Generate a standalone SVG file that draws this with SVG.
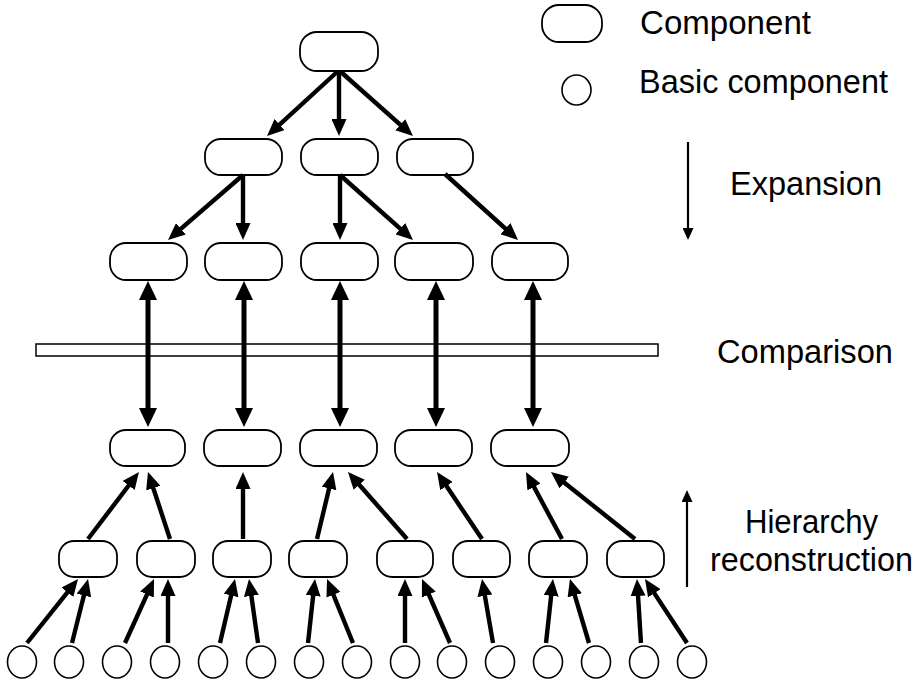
<svg xmlns="http://www.w3.org/2000/svg" width="917" height="683" viewBox="0 0 917 683">
  <style>
    .node { fill: #fff; stroke: #000; stroke-width: 1.8; }
    .leaf { fill: #fff; stroke: #000; stroke-width: 1.6; }
    .edge { stroke: #000; stroke-width: 4.4; fill: none; marker-end: url(#head); }
    .cmp { stroke: #000; stroke-width: 5; fill: none; marker-start: url(#headBig); marker-end: url(#headBig); }
    .thin { stroke: #000; stroke-width: 2.2; fill: none; marker-end: url(#headThin); }
    .lbl { font-family: "Liberation Sans", Arial, Helvetica, sans-serif; font-size: 33px; fill: #000; }
  </style>
  <defs>
    <marker id="head" markerUnits="userSpaceOnUse" markerWidth="17" markerHeight="15" refX="7" refY="7.5" orient="auto">
      <path d="M0,0 L17,7.5 L0,15 Z" fill="#000"/>
    </marker>
    <marker id="headBig" markerUnits="userSpaceOnUse" markerWidth="19" markerHeight="18" refX="7" refY="9" orient="auto-start-reverse">
      <path d="M0,0 L19,9 L0,18 Z" fill="#000"/>
    </marker>
    <marker id="headThin" markerUnits="userSpaceOnUse" markerWidth="12" markerHeight="11" refX="4" refY="5.5" orient="auto">
      <path d="M0,0 L12,5.5 L0,11 Z" fill="#000"/>
    </marker>
  </defs>

  <rect width="917" height="683" fill="#fff"/>

  <!-- comparison plane -->
  <rect id="comparison-bar" x="36" y="344" width="622" height="12" fill="#fff" stroke="#000" stroke-width="1.5"/>

  <!-- legend -->
  <g id="legend">
    <rect class="node" x="542" y="5" width="60" height="37" rx="17"/>
    <text class="lbl" x="640" y="34" textLength="171" lengthAdjust="spacingAndGlyphs">Component</text>
    <ellipse class="leaf" cx="576.5" cy="90" rx="14.5" ry="15"/>
    <text class="lbl" x="639" y="93" textLength="249" lengthAdjust="spacingAndGlyphs">Basic component</text>
  </g>

  <g id="stage-labels">
    <line class="thin" x1="688" y1="142" x2="688" y2="232"/>
    <text class="lbl" x="730" y="195" textLength="152" lengthAdjust="spacingAndGlyphs">Expansion</text>
    <text class="lbl" x="717" y="363" textLength="176" lengthAdjust="spacingAndGlyphs">Comparison</text>
    <line class="thin" x1="687" y1="587" x2="687" y2="498"/>
    <text class="lbl" x="745" y="533" textLength="133" lengthAdjust="spacingAndGlyphs">Hierarchy</text>
    <text class="lbl" x="710" y="571" textLength="203" lengthAdjust="spacingAndGlyphs">reconstruction</text>
  </g>

  <!-- upper hierarchy (expansion) -->
  <g id="n-root"><rect class="node" x="300" y="32" width="78" height="39" rx="17"/></g>
  <g id="n-e1"><rect class="node" x="205" y="139" width="77" height="36" rx="16"/></g>
  <g id="n-e2"><rect class="node" x="301" y="139" width="77" height="36" rx="16"/></g>
  <g id="n-e3"><rect class="node" x="397" y="139" width="76" height="36" rx="16"/></g>
  <g id="n-u1"><rect class="node" x="110" y="243" width="77" height="37" rx="16"/></g>
  <g id="n-u2"><rect class="node" x="205" y="243" width="77" height="37" rx="16"/></g>
  <g id="n-u3"><rect class="node" x="301" y="243" width="77" height="37" rx="16"/></g>
  <g id="n-u4"><rect class="node" x="395" y="243" width="78" height="37" rx="16"/></g>
  <g id="n-u5"><rect class="node" x="492" y="243" width="76" height="37" rx="16"/></g>

  <!-- lower hierarchy (reconstruction) -->
  <g id="n-l1"><rect class="node" x="110" y="430" width="75" height="36" rx="16"/></g>
  <g id="n-l2"><rect class="node" x="204" y="430" width="77" height="36" rx="16"/></g>
  <g id="n-l3"><rect class="node" x="300" y="430" width="77" height="36" rx="16"/></g>
  <g id="n-l4"><rect class="node" x="395" y="430" width="77" height="36" rx="16"/></g>
  <g id="n-l5"><rect class="node" x="491" y="430" width="78" height="36" rx="16"/></g>

  <g id="n-m1"><rect class="node" x="59" y="541" width="58" height="36" rx="15"/></g>
  <g id="n-m2"><rect class="node" x="137" y="541" width="58" height="36" rx="15"/></g>
  <g id="n-m3"><rect class="node" x="213" y="541" width="58" height="36" rx="15"/></g>
  <g id="n-m4"><rect class="node" x="289" y="541" width="58" height="36" rx="15"/></g>
  <g id="n-m5"><rect class="node" x="377" y="541" width="56" height="36" rx="15"/></g>
  <g id="n-m6"><rect class="node" x="453" y="541" width="57" height="36" rx="15"/></g>
  <g id="n-m7"><rect class="node" x="529" y="541" width="58" height="36" rx="15"/></g>
  <g id="n-m8"><rect class="node" x="607" y="541" width="57" height="36" rx="15"/></g>

  <!-- basic components -->
  <g id="b1"><ellipse class="leaf" cx="22" cy="662" rx="14.5" ry="16"/></g>
  <g id="b2"><ellipse class="leaf" cx="69" cy="662" rx="14.5" ry="16"/></g>
  <g id="b3"><ellipse class="leaf" cx="117" cy="662" rx="14.5" ry="16"/></g>
  <g id="b4"><ellipse class="leaf" cx="165" cy="662" rx="14.5" ry="16"/></g>
  <g id="b5"><ellipse class="leaf" cx="213" cy="662" rx="14.5" ry="16"/></g>
  <g id="b6"><ellipse class="leaf" cx="261" cy="662" rx="14.5" ry="16"/></g>
  <g id="b7"><ellipse class="leaf" cx="309" cy="662" rx="14.5" ry="16"/></g>
  <g id="b8"><ellipse class="leaf" cx="357" cy="662" rx="14.5" ry="16"/></g>
  <g id="b9"><ellipse class="leaf" cx="405" cy="662" rx="14.5" ry="16"/></g>
  <g id="b10"><ellipse class="leaf" cx="452" cy="662" rx="14.5" ry="16"/></g>
  <g id="b11"><ellipse class="leaf" cx="500" cy="662" rx="14.5" ry="16"/></g>
  <g id="b12"><ellipse class="leaf" cx="548" cy="662" rx="14.5" ry="16"/></g>
  <g id="b13"><ellipse class="leaf" cx="596" cy="662" rx="14.5" ry="16"/></g>
  <g id="b14"><ellipse class="leaf" cx="644" cy="662" rx="14.5" ry="16"/></g>
  <g id="b15"><ellipse class="leaf" cx="692" cy="662" rx="14.5" ry="16"/></g>

  <!-- connectors -->
  <g id="connectors">
    <!-- expansion -->
    <line class="edge" x1="337" y1="72" x2="274.4" y2="129.3"/>
    <line class="edge" x1="339" y1="72" x2="339" y2="126"/>
    <line class="edge" x1="341" y1="72" x2="405.5" y2="129.4"/>
    <line class="edge" x1="243" y1="175" x2="175.6" y2="233.4"/>
    <line class="edge" x1="243" y1="175" x2="243" y2="230"/>
    <line class="edge" x1="340" y1="175" x2="340" y2="230"/>
    <line class="edge" x1="340" y1="175" x2="405.5" y2="233.3"/>
    <line class="edge" x1="445" y1="174" x2="510.6" y2="233.3"/>
    <!-- comparison -->
    <line class="cmp" x1="148" y1="293" x2="148" y2="415"/>
    <line class="cmp" x1="244" y1="293" x2="244" y2="415"/>
    <line class="cmp" x1="340" y1="293" x2="340" y2="415"/>
    <line class="cmp" x1="436" y1="293" x2="436" y2="415"/>
    <line class="cmp" x1="533" y1="293" x2="533" y2="415"/>
    <!-- reconstruction: middle to lower-top -->
    <line class="edge" x1="88" y1="539" x2="132.9" y2="480"/>
    <line class="edge" x1="170" y1="539" x2="151.1" y2="481.5"/>
    <line class="edge" x1="243" y1="539" x2="243" y2="482"/>
    <line class="edge" x1="317" y1="539" x2="330.7" y2="481.7"/>
    <line class="edge" x1="407" y1="539" x2="354.6" y2="479.5"/>
    <line class="edge" x1="482" y1="539" x2="442.6" y2="480.3"/>
    <line class="edge" x1="562" y1="539" x2="530.7" y2="480.8"/>
    <line class="edge" x1="635" y1="539" x2="558.8" y2="478.2"/>
    <!-- reconstruction: basic to middle -->
    <line class="edge" x1="27" y1="643" x2="71.8" y2="586.8"/>
    <line class="edge" x1="72" y1="643" x2="85.6" y2="588.7"/>
    <line class="edge" x1="125" y1="643" x2="149.9" y2="588.1"/>
    <line class="edge" x1="168" y1="643" x2="168" y2="589"/>
    <line class="edge" x1="220" y1="643" x2="232.7" y2="588.7"/>
    <line class="edge" x1="258" y1="643" x2="250.4" y2="588.9"/>
    <line class="edge" x1="308" y1="643" x2="313.9" y2="588.9"/>
    <line class="edge" x1="353" y1="643" x2="330.8" y2="588.3"/>
    <line class="edge" x1="405" y1="643" x2="405" y2="589"/>
    <line class="edge" x1="450" y1="643" x2="426" y2="588.2"/>
    <line class="edge" x1="493" y1="643" x2="483.7" y2="588.9"/>
    <line class="edge" x1="546" y1="643" x2="551.9" y2="588.9"/>
    <line class="edge" x1="589" y1="643" x2="572.8" y2="588.6"/>
    <line class="edge" x1="641" y1="643" x2="637.6" y2="589"/>
    <line class="edge" x1="687" y1="643" x2="650.5" y2="587.4"/>
  </g>
</svg>
